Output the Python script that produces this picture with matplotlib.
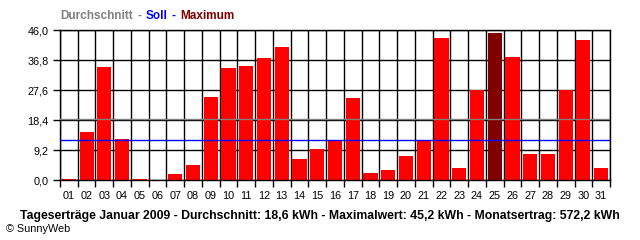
import numpy as np
import matplotlib
matplotlib.use('Agg')
import matplotlib.pyplot as plt

plt.rcParams['font.family'] = ['Liberation Sans', 'DejaVu Sans']

# daily yield January 2009 (kWh)
days = ['%02d' % d for d in range(1, 32)]
ertrag = [0.3, 14.7, 34.7, 12.6, 0.3, 0.0, 1.8, 4.6, 25.5, 34.4,
          35.0, 37.4, 40.8, 6.4, 9.5, 12.0, 25.1, 2.1, 3.1, 7.4,
          12.1, 43.5, 3.7, 27.6, 45.2, 37.7, 8.0, 8.0, 27.5, 42.9, 3.7]
durchschnitt = 18.6
soll = 12.3
yticks = [0.0, 9.2, 18.4, 27.6, 36.8, 46.0]

fig = plt.figure(figsize=(6.4, 2.4), dpi=100)
ax = fig.add_axes([60/640, 60/240, 550/640, 150/240])

x = np.arange(1, 32)
imax = int(np.argmax(ertrag))
colors = ['#ff0000'] * len(ertrag)
colors[imax] = '#800000'

lw = 1.0
# grid behind bars
for b in np.arange(0.5, 32, 1):
    ax.axvline(b, color='black', lw=lw, zorder=1)
for t in yticks:
    ax.axhline(t, color='black', lw=lw, zorder=1)

ax.bar(x, ertrag, width=0.8, color=colors, zorder=2)
ax.axhline(durchschnitt, color='#808080', lw=lw, zorder=3)
ax.axhline(soll, color='#0000ff', lw=lw, zorder=3)

ax.set_xlim(0.5, 31.5)
ax.set_ylim(0, 46)
ax.set_xticks(np.arange(0.5, 32, 1))
ax.set_xticklabels([])
ax.set_xticks(x, minor=True)
ax.set_xticklabels(days, minor=True)
ax.tick_params(axis='x', which='major', length=5, width=lw, color='black')
ax.tick_params(axis='x', which='minor', length=0, pad=8, labelsize=7.8)
ax.set_yticks(yticks)
ax.set_yticklabels([('%.1f' % t).replace('.', ',') for t in yticks])
ax.tick_params(axis='y', length=5, width=lw, labelsize=7.8, pad=3)
for s in ax.spines.values():
    s.set_linewidth(lw)

# coloured title, pieces placed at pixel positions
parts = [('Durchschnitt', '#808080', 60), ('-', '#808080', 137),
         ('Soll', '#0000ff', 145.5), ('-', '#0000ff', 171),
         ('Maximum', '#800000', 180)]
for txt, c, px in parts:
    fig.text(px/640, 1 - 16/240, txt, color=c, fontsize=8.5, fontweight='bold',
             va='center', ha='left')

fig.text(320/640, 1 - 216/240,
         'Tageserträge Januar 2009 - Durchschnitt: 18,6 kWh - Maximalwert: 45,2 kWh - Monatsertrag: 572,2 kWh',
         fontsize=8.8, fontweight='bold', ha='center', va='center')
fig.text(6/640, 1 - 229/240, '© SunnyWeb', fontsize=7.8, ha='left', va='center')

fig.savefig('out.png', dpi=100)
